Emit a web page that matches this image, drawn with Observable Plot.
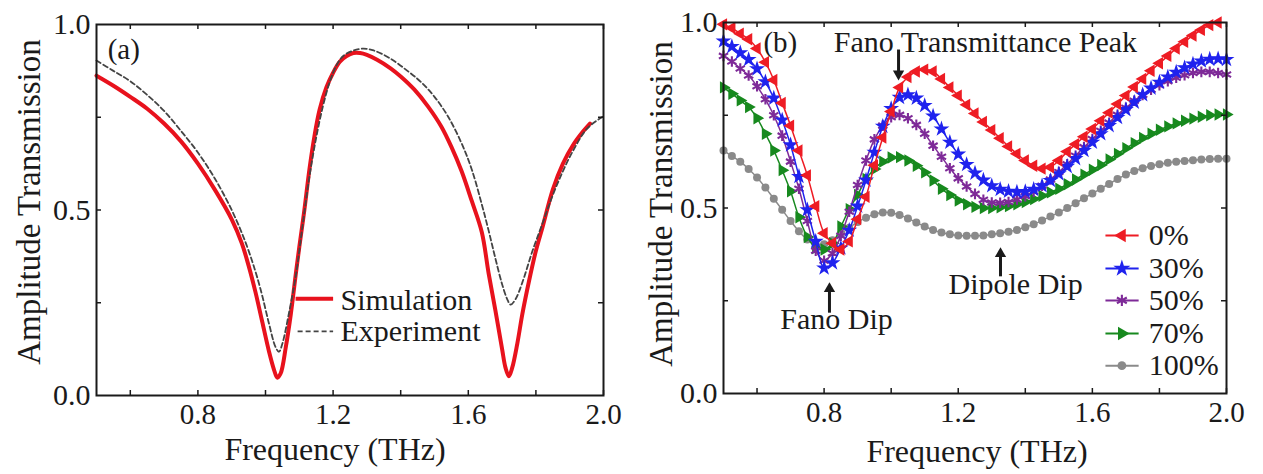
<!DOCTYPE html>
<html>
<head>
<meta charset="utf-8">
<script src="https://cdn.jsdelivr.net/npm/d3@7"></script>
<script src="https://cdn.jsdelivr.net/npm/@observablehq/plot@0.6"></script>
<style>
  html, body { margin: 0; padding: 0; background: #fff; }
  #fig { position: relative; width: 1263px; height: 474px; overflow: hidden; }
  #fig svg { position: absolute; top: 0; }
</style>
</head>
<body>
<div id="fig"></div>
<script>
const FONT = '"Liberation Serif", "Times New Roman", Times, serif';
const INK = "#1a1a1a";

// ---- Panel (a): simulated vs measured amplitude transmission ----
const simFreq = [0.50,0.55,0.60,0.65,0.70,0.75,0.80,0.85,0.90,0.93,0.95,0.97,0.99,1.01,1.025,1.035,1.045,1.06,1.075,1.09,1.10,1.115,1.13,1.145,1.16,1.18,1.20,1.22,1.24,1.26,1.28,1.30,1.33,1.37,1.40,1.44,1.48,1.52,1.55,1.58,1.61,1.64,1.66,1.68,1.70,1.71,1.72,1.73,1.745,1.76,1.78,1.80,1.82,1.85,1.88,1.91,1.94,1.96];
const simAmp  = [0.862,0.835,0.805,0.773,0.733,0.685,0.625,0.555,0.475,0.41,0.35,0.28,0.20,0.12,0.07,0.048,0.06,0.13,0.22,0.33,0.40,0.50,0.61,0.70,0.77,0.83,0.87,0.900,0.915,0.923,0.923,0.918,0.905,0.882,0.86,0.825,0.78,0.725,0.67,0.605,0.525,0.44,0.33,0.23,0.125,0.075,0.052,0.075,0.14,0.22,0.31,0.39,0.455,0.555,0.625,0.675,0.712,0.733];

const expFreq = [0.50,0.55,0.60,0.65,0.70,0.75,0.80,0.85,0.90,0.94,0.97,0.99,1.01,1.03,1.04,1.05,1.07,1.09,1.11,1.13,1.15,1.17,1.19,1.21,1.23,1.26,1.29,1.32,1.37,1.42,1.46,1.50,1.54,1.58,1.61,1.64,1.66,1.68,1.70,1.715,1.725,1.74,1.76,1.79,1.82,1.85,1.88,1.91,1.95,1.99,2.00];
const expAmp  = [0.903,0.875,0.847,0.81,0.767,0.713,0.655,0.585,0.50,0.415,0.335,0.27,0.195,0.13,0.118,0.14,0.225,0.325,0.46,0.59,0.695,0.78,0.845,0.89,0.915,0.93,0.935,0.93,0.908,0.875,0.845,0.805,0.752,0.68,0.61,0.515,0.445,0.37,0.30,0.26,0.245,0.26,0.305,0.39,0.465,0.54,0.605,0.66,0.718,0.747,0.752];

// ---- Panel (b): transmission for each conductivity fraction ----
const freqB = [0.5,0.525,0.55,0.575,0.6,0.625,0.65,0.675,0.7,0.725,0.75,0.775,0.8,0.825,0.85,0.875,0.9,0.925,0.95,0.975,1.0,1.025,1.05,1.075,1.1,1.125,1.15,1.175,1.2,1.225,1.25,1.275,1.3,1.325,1.35,1.375,1.4,1.425,1.45,1.475,1.5,1.525,1.55,1.575,1.6,1.625,1.65,1.675,1.7,1.725,1.75,1.775,1.8,1.825,1.85,1.875,1.9,1.925,1.95,1.975,2.0];
const amp0 = [0.995,0.985,0.970,0.955,0.930,0.893,0.845,0.783,0.722,0.655,0.588,0.505,0.432,0.405,0.388,0.410,0.470,0.530,0.615,0.690,0.760,0.825,0.853,0.868,0.873,0.868,0.848,0.825,0.803,0.778,0.755,0.732,0.710,0.688,0.666,0.646,0.628,0.614,0.606,0.610,0.628,0.652,0.672,0.692,0.713,0.735,0.757,0.780,0.803,0.826,0.848,0.870,0.890,0.910,0.930,0.948,0.965,0.980,0.993,1.000,null];
const amp30 = [0.950,0.935,0.918,0.900,0.875,0.840,0.796,0.737,0.670,0.585,0.495,0.410,0.338,0.352,0.392,0.440,0.505,0.575,0.650,0.720,0.768,0.798,0.805,0.796,0.776,0.748,0.713,0.677,0.645,0.617,0.594,0.575,0.560,0.550,0.545,0.543,0.544,0.550,0.560,0.574,0.592,0.612,0.633,0.655,0.677,0.700,0.722,0.744,0.765,0.785,0.805,0.823,0.839,0.853,0.866,0.878,0.888,0.896,0.901,0.902,0.900];
const amp50 = [0.910,0.895,0.876,0.857,0.828,0.793,0.750,0.695,0.625,0.552,0.465,0.385,0.358,0.378,0.425,0.490,0.562,0.628,0.685,0.722,0.745,0.751,0.742,0.724,0.700,0.668,0.638,0.607,0.580,0.558,0.538,0.522,0.515,0.514,0.516,0.523,0.532,0.544,0.560,0.577,0.597,0.618,0.641,0.664,0.686,0.708,0.730,0.751,0.770,0.789,0.805,0.819,0.831,0.842,0.851,0.858,0.864,0.867,0.867,0.864,0.860];
const amp70 = [0.825,0.808,0.790,0.772,0.742,0.700,0.655,0.602,0.545,0.475,0.422,0.392,0.388,0.405,0.450,0.497,0.535,0.578,0.605,0.625,0.636,0.637,0.628,0.614,0.596,0.574,0.552,0.535,0.520,0.510,0.503,0.500,0.500,0.502,0.505,0.510,0.516,0.524,0.533,0.542,0.552,0.564,0.577,0.590,0.603,0.616,0.631,0.646,0.661,0.675,0.689,0.700,0.711,0.720,0.728,0.735,0.741,0.746,0.750,0.752,0.752];
const amp100 = [0.655,0.640,0.625,0.605,0.582,0.555,0.525,0.495,0.465,0.437,0.415,0.403,0.402,0.413,0.430,0.447,0.462,0.474,0.483,0.488,0.487,0.481,0.472,0.461,0.450,0.441,0.434,0.429,0.426,0.425,0.425,0.426,0.429,0.432,0.436,0.441,0.448,0.456,0.466,0.477,0.488,0.500,0.513,0.526,0.539,0.552,0.565,0.578,0.590,0.600,0.607,0.613,0.618,0.622,0.625,0.627,0.629,0.631,0.632,0.633,0.633];
const seriesNames = ["0%", "30%", "50%", "70%", "100%"];

// ---- tick values ----
const xTicks = [0.6, 0.8, 1.0, 1.2, 1.4, 1.6, 1.8, 2.0];
const xLabels = [0.8, 1.2, 1.6, 2.0];
const yTicks = [0.25, 0.5, 0.75];
const yLabels = [0, 0.5, 1];

// marker style for each series of panel (b)
const seriesStyle = {
  "0%":   {color: "#ee1c24", symbol: "triangle", rotate: -90, r: 4.6},
  "30%":  {color: "#1f22ee", symbol: "star",     rotate: 0,   r: 5.0},
  "50%":  {color: "#7e2a98", symbol: "asterisk", rotate: 0,   r: 5.0},
  "70%":  {color: "#17891e", symbol: "triangle", rotate: 90,  r: 4.6},
  "100%": {color: "#8a8a8a", symbol: "circle",   rotate: 0,   r: 4.0}
};

const TICK = 5;   // inward tick length, px

// frame with inward ticks on all four sides, tick labels and axis titles
function frameMarks(w, h, titleDx, titleDy, yTitleDx, yTitleDy) {
  const tickStyle = {stroke: INK, strokeWidth: 1.5};
  return [
    Plot.ruleX(xTicks, {x: d => d, insetTop: h - TICK, ...tickStyle}),
    Plot.ruleX(xTicks, {x: d => d, insetBottom: h - TICK, ...tickStyle}),
    Plot.ruleY(yTicks, {y: d => d, insetRight: w - TICK, ...tickStyle}),
    Plot.ruleY(yTicks, {y: d => d, insetLeft: w - TICK, ...tickStyle}),
    Plot.axisX(xLabels, {anchor: "bottom", tickSize: 0, tickPadding: 8, tickFormat: d3.format(".1f"), label: null, fontSize: 29}),
    Plot.axisY(yLabels, {anchor: "left", tickSize: 0, tickPadding: 6, tickFormat: d3.format(".1f"), label: null, fontSize: 30}),
    Plot.frame({stroke: INK, strokeWidth: 2}),
    Plot.text(["Frequency (THz)"], {frameAnchor: "bottom", textAnchor: "middle", dx: titleDx, dy: titleDy, fontSize: 32, lineAnchor: "middle"}),
    Plot.text(["Amplitude Transmission"], {frameAnchor: "left", textAnchor: "middle", dx: yTitleDx, dy: yTitleDy, rotate: -90, fontSize: 33, lineAnchor: "middle"})
  ];
}

const baseOpts = {
  height: 474,
  x: {domain: [0.5, 2.0]},
  y: {domain: [0, 1]},
  style: {fontFamily: FONT, fontSize: "30px", color: INK, background: "transparent", overflow: "visible"}
};

// ---- panel (a) ----
const simRows = simFreq.map((f, i) => ({f, t: simAmp[i]}));
const expRows = expFreq.map((f, i) => ({f, t: expAmp[i]}));
const RED_A = "#e8121d";
const DASH_A = "#444444";

const A = {width: 631, marginLeft: 96, marginRight: 28, marginTop: 24, marginBottom: 79};
const panelA = Plot.plot({
  ...baseOpts,
  ...A,
  marks: [
    Plot.line(simRows, {x: "f", y: "t", stroke: RED_A, strokeWidth: 4, curve: "catmull-rom"}),
    Plot.line(expRows, {x: "f", y: "t", stroke: DASH_A, strokeWidth: 1.8, strokeDasharray: "5,3", curve: "catmull-rom"}),
    // legend
    Plot.link([0], {x1: 1.089, x2: 1.200, y1: 0.261, y2: 0.261, stroke: RED_A, strokeWidth: 4}),
    Plot.link([0], {x1: 1.095, x2: 1.200, y1: 0.173, y2: 0.173, stroke: DASH_A, strokeWidth: 1.8, strokeDasharray: "5,3"}),
    Plot.text(["Simulation"], {x: 1.222, y: 0.256, textAnchor: "start", fontSize: 30}),
    Plot.text(["Experiment"], {x: 1.222, y: 0.173, textAnchor: "start", fontSize: 30}),
    Plot.text(["(a)"], {x: 0.533, y: 0.933, textAnchor: "start", fontSize: 29}),
    ...frameMarks(A.width - A.marginLeft - A.marginRight, 474 - A.marginTop - A.marginBottom, -15, 54, -67, -8)
  ]
});
panelA.style.left = "0px";

// ---- panel (b) ----
const ampB = [amp0, amp30, amp50, amp70, amp100];
const rowsB = seriesNames.map((s, k) =>
  freqB.map((f, i) => ({f, t: ampB[k][i], s})).filter(d => d.t != null)
);

function dotStyle(st, extra) {
  const o = {symbol: st.symbol, r: st.r + (extra || 0), rotate: st.rotate};
  if (st.symbol === "asterisk") Object.assign(o, {stroke: st.color, strokeWidth: 2.1});
  else Object.assign(o, {fill: st.color});
  return o;
}

const seriesMarks = [];
for (let k = seriesNames.length - 1; k >= 0; --k) {
  const st = seriesStyle[seriesNames[k]];
  seriesMarks.push(Plot.line(rowsB[k], {x: "f", y: "t", stroke: st.color, strokeWidth: 1.5, curve: "catmull-rom"}));
  seriesMarks.push(Plot.dot(rowsB[k], {x: "f", y: "t", ...dotStyle(st)}));
}

// legend rows for panel (b)
const legendY = [0.426, 0.337, 0.251, 0.162, 0.075];
const legendMarks = [];
seriesNames.forEach((s, k) => {
  const st = seriesStyle[s];
  legendMarks.push(Plot.link([0], {x1: 1.639, x2: 1.738, y1: legendY[k], y2: legendY[k], stroke: st.color, strokeWidth: 2}));
  legendMarks.push(Plot.dot([0], {x: 1.688, y: legendY[k], ...dotStyle(st, 0.4)}));
  legendMarks.push(Plot.text([s], {x: 1.768, y: legendY[k], textAnchor: "start", fontSize: 30}));
});

// arrows: shaft plus a filled triangular head at the tip
function arrow(x, tipY, tailY) {
  const up = tipY > tailY;
  return [
    Plot.link([0], {x1: x, x2: x, y1: tailY, y2: tipY, stroke: INK, strokeWidth: 3, dy: up ? 6 : -6}),
    Plot.dot([0], {x, y: tipY, symbol: "triangle", r: 4.2, fill: INK, rotate: up ? 0 : 180, dy: up ? 6.5 : -6.5})
  ];
}

const B = {width: 632, marginLeft: 92, marginRight: 37, marginTop: 22, marginBottom: 81};
const panelB = Plot.plot({
  ...baseOpts,
  ...B,
  marks: [
    ...seriesMarks,
    ...arrow(1.022, 0.844, 0.911),
    ...arrow(0.816, 0.300, 0.234),
    ...arrow(1.326, 0.394, 0.332),
    Plot.text(["Fano Transmittance Peak"], {x: 1.281, y: 0.946, fontSize: 30}),
    Plot.text(["Fano Dip"], {x: 0.837, y: 0.200, fontSize: 30}),
    Plot.text(["Dipole Dip"], {x: 1.371, y: 0.294, fontSize: 30}),
    Plot.text(["(b)"], {x: 0.619, y: 0.946, textAnchor: "start", fontSize: 29}),
    ...legendMarks,
    ...frameMarks(B.width - B.marginLeft - B.marginRight, 474 - B.marginTop - B.marginBottom, 2, 58, -62, -4)
  ]
});
panelB.style.left = "631px";

document.getElementById("fig").append(panelA, panelB);
</script>
</body>
</html>
